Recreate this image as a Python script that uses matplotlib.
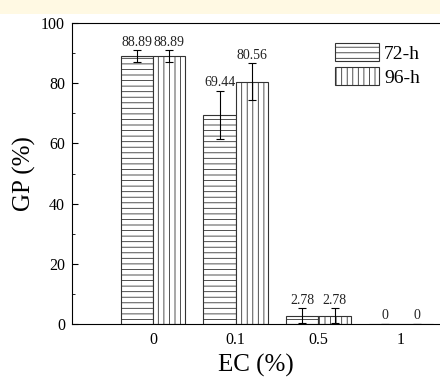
import numpy as np
import matplotlib.pyplot as plt
from matplotlib.patches import Rectangle

plt.rcParams['font.family'] = ['Liberation Serif', 'DejaVu Serif']
plt.rcParams['hatch.linewidth'] = 0.6

categories = ['0', '0.1', '0.5', '1']
gp_72 = [88.89, 69.44, 2.78, 0]
gp_96 = [88.89, 80.56, 2.78, 0]
err_72 = [2.0, 8.0, 2.4, 0]
err_96 = [2.0, 6.0, 2.4, 0]

x = np.arange(1, len(categories) + 1)
w = 0.39

fig = plt.figure(figsize=(4.4, 3.79), dpi=100)
fig.patches.append(Rectangle((0, 1 - 14 / 379), 1, 14 / 379, transform=fig.transFigure,
                             facecolor='#fff9e3', edgecolor='none', zorder=-1))
ax = fig.add_axes([72 / 440, 1 - 324 / 379, 1 - 72 / 440, 301 / 379])

b1 = ax.bar(x - w / 2, gp_72, w, color='white', edgecolor='#333333', hatch='---', lw=0.8, label='72-h')
b2 = ax.bar(x + w / 2, gp_96, w, color='white', edgecolor='#333333', hatch='|||', lw=0.8, label='96-h')
ax.errorbar(x - w / 2, gp_72, yerr=err_72, fmt='none', ecolor='black', elinewidth=0.8, capsize=3, capthick=0.8)
ax.errorbar(x + w / 2, gp_96, yerr=err_96, fmt='none', ecolor='black', elinewidth=0.8, capsize=3, capthick=0.8)

for xs, vals, errs in [(x - w / 2, gp_72, err_72), (x + w / 2, gp_96, err_96)]:
    for xi, v, e in zip(xs, vals, errs):
        ax.text(xi, v + e + 0.5, '%g' % v if v == 0 else '%.2f' % v,
                ha='center', va='bottom', fontsize=10, color='#222222')

ax.set_xlim(0.02, 4.47)
ax.set_ylim(0, 100)
ax.set_xticks(x)
ax.set_xticklabels(categories)
ax.set_yticks([0, 20, 40, 60, 80, 100])
ax.set_yticks([10, 30, 50, 70, 90], minor=True)
ax.tick_params(axis='y', which='major', direction='in', length=4, labelsize=11.5, pad=5)
ax.tick_params(axis='y', which='minor', direction='in', length=2.5)
ax.tick_params(axis='x', length=0, labelsize=11.5, pad=6)
ax.spines['right'].set_visible(False)
ax.set_xlabel('EC (%)', fontsize=18, labelpad=4)
ax.set_ylabel('GP (%)', fontsize=18, labelpad=4)

ax.legend(loc='upper left', bbox_to_anchor=((335 - 72) / 368, (324 - 43) / 301), frameon=False,
          fontsize=14, borderpad=0, borderaxespad=0,
          handlelength=2.27, handleheight=1.08, handletextpad=0.25, labelspacing=0.2)

fig.savefig('out.png', dpi=100)
